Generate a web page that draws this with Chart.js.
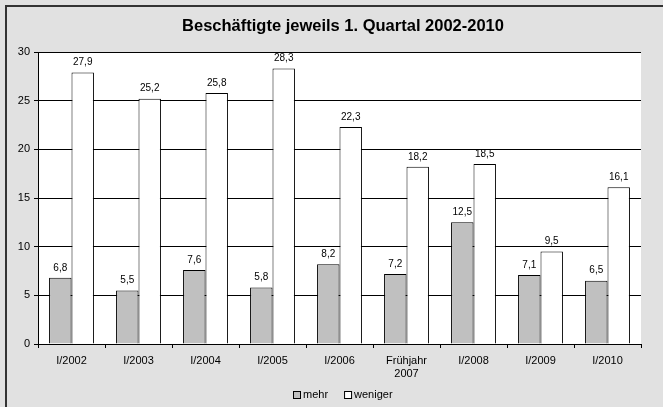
<!DOCTYPE html>
<html><head><meta charset="utf-8">
<script src="https://cdn.jsdelivr.net/npm/chart.js@4.4.1/dist/chart.umd.min.js"></script>
<style>html,body{margin:0;padding:0;background:#e1e1e1}#w{width:663px;height:407px}</style>
</head><body><div id="w"><canvas id="c" width="663" height="407"></canvas></div>
<script>
const categories = ["I/2002","I/2003","I/2004","I/2005","I/2006",["Frühjahr","2007"],"I/2008","I/2009","I/2010"];
const mehr = [6.8,5.5,7.6,5.8,8.2,7.2,12.5,7.1,6.5];
const weniger = [27.9,25.2,25.8,28.3,22.3,18.2,18.5,9.5,16.1];
const yTicks = [0,5,10,15,20,25,30];
const titleText = "Beschäftigte jeweils 1. Quartal 2002-2010";
const seriesNames = ["mehr","weniger"];

const FONT = "'Liberation Sans', Arial, sans-serif";

const bgPlugin = {
  id:'bg',
  beforeDraw(chart){
    const ctx = chart.ctx, a = chart.chartArea;
    ctx.save();
    ctx.fillStyle = '#e1e1e1';
    ctx.fillRect(0,0,chart.width,chart.height);
    ctx.fillStyle = '#333';
    ctx.fillRect(5,5,chart.width-5,2);
    ctx.fillRect(5,5,2,chart.height-5);
    ctx.fillStyle = '#fff';
    ctx.fillRect(a.left,a.top,a.right-a.left,a.bottom-a.top);
    ctx.restore();
  },
  afterDraw(chart){
    const ctx = chart.ctx;
    ctx.save();
    ctx.fillStyle = '#000';
    ctx.textBaseline = 'middle';
    ctx.textAlign = 'center';
    ctx.font = "bold 16.5px " + FONT;
    ctx.fillText(titleText, 343, 26);
    // legend
    ctx.font = "11px " + FONT;
    ctx.textAlign = 'left';
    const items = chart.data.datasets.map(d=>({t:d.label,c:d.backgroundColor}));
    const box = 8, gapBox = 2, gapItem = 16;
    let total = 0;
    items.forEach((it,i)=>{ it.w = box+gapBox+ctx.measureText(it.t).width; total += it.w + (i?gapItem:0); });
    let x = Math.round(343 - total/2);
    const yc = 395;
    items.forEach(it=>{
      ctx.fillStyle = it.c;
      ctx.fillRect(x+0.5, yc-4+0.5, box-1, box-1);
      ctx.strokeStyle = '#000'; ctx.lineWidth = 1;
      ctx.strokeRect(x+0.5, yc-4+0.5, box-1, box-1);
      ctx.fillStyle = '#000';
      ctx.fillText(it.t, x+box+gapBox, yc);
      x += it.w + gapItem;
    });
    ctx.restore();
  }
};
const labelPlugin = {
  id:'vals',
  afterDatasetsDraw(chart){
    const ctx = chart.ctx;
    ctx.save();
    ctx.font = "10px " + FONT;
    ctx.fillStyle = '#000';
    ctx.textAlign = 'center';
    ctx.textBaseline = 'bottom';
    chart.data.datasets.forEach((ds,i)=>{
      chart.getDatasetMeta(i).data.forEach((bar,j)=>{
        ctx.fillText(ds.data[j].toFixed(1).replace('.',','), bar.x, bar.y-5);
      });
    });
    ctx.restore();
  }
};

new Chart(document.getElementById('c'),{
  type:'bar',
  data:{
    labels:categories,
    datasets:[
      {label:seriesNames[0],data:mehr,backgroundColor:'#c0c0c0',borderColor:'#000',borderWidth:1,categoryPercentage:0.67,barPercentage:1},
      {label:seriesNames[1],data:weniger,backgroundColor:'#fff',borderColor:'#000',borderWidth:1,categoryPercentage:0.67,barPercentage:1}
    ]
  },
  options:{
    responsive:false,
    animation:false,
    layout:{padding:{left:0,right:22,top:52,bottom:0}},
    plugins:{
      title:{display:false},
      legend:{display:false},
      tooltip:{enabled:false}
    },
    scales:{
      x:{
        grid:{display:true,drawOnChartArea:false,drawTicks:true,tickLength:4,color:'#000',offset:true},
        border:{color:'#000',width:1},
        ticks:{color:'#000',font:{family:FONT,size:11},padding:6,maxRotation:0,autoSkip:false},
        afterFit(s){s.height=63;}
      },
      y:{
        min:0,max:30,
        afterBuildTicks(s){s.ticks=yTicks.map(v=>({value:v}));},
        grid:{color:'#000',tickLength:4,lineWidth:1},
        border:{color:'#000',width:1},
        ticks:{color:'#000',font:{family:FONT,size:11},padding:4},
        afterFit(s){s.width=38;}
      }
    }
  },
  plugins:[bgPlugin,labelPlugin]
});
</script></body></html>
